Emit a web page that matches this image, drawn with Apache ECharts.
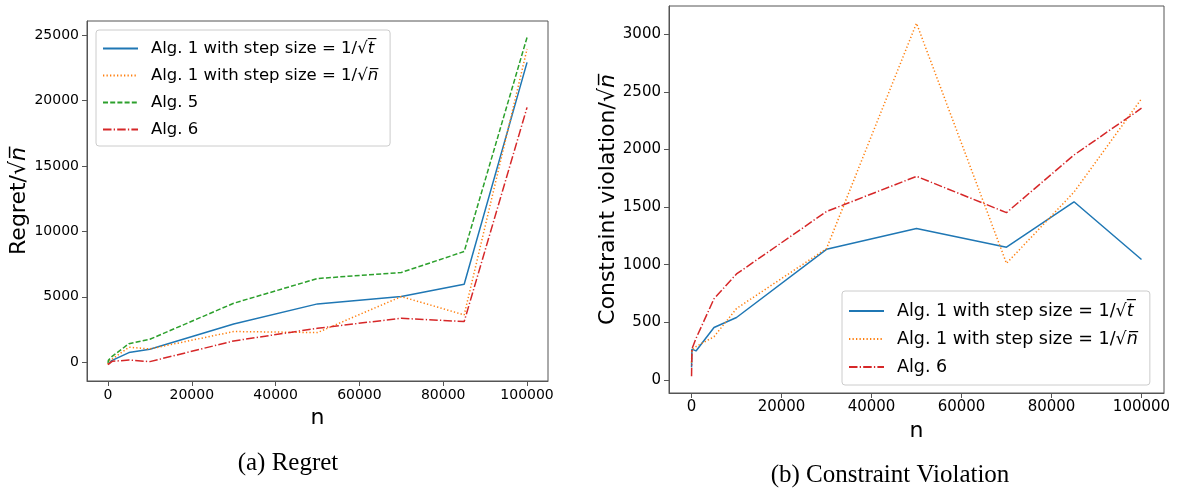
<!DOCTYPE html>
<html>
<head>
<meta charset="utf-8">
<script src="https://cdn.jsdelivr.net/npm/echarts@6/dist/echarts.min.js"></script>
<style>
html,body{margin:0;padding:0;background:#fff;}
#chart{width:1180px;height:488px;}
</style>
</head>
<body>
<div id="chart"></div>
<script>
// ---- data ----
const nValues = [10, 100, 1000, 5000, 10000, 30000, 50000, 70000, 85000, 100000];

const regretAlg1SqrtT = [-150, 0, 150, 740, 990, 2930, 4460, 5020, 5960, 22910];
const regretAlg1SqrtN = [-150, 30, 250, 1150, 1020, 2350, 2270, 5020, 3620, 23930];
const regretAlg5      = [-50, 150, 450, 1420, 1760, 4510, 6400, 6860, 8460, 24820];
const regretAlg6      = [-180, -100, 70, 170, 50, 1630, 2600, 3360, 3110, 19470];

const violAlg1SqrtT = [110, 268, 252, 455, 542, 1134, 1315, 1152, 1546, 1045];
const violAlg1SqrtN = [150, 262, 290, 375, 620, 1140, 3095, 1012, 1630, 2440];
const violAlg6      = [32, 270, 360, 705, 920, 1462, 1767, 1452, 1952, 2358];

const xTicks = [0, 20000, 40000, 60000, 80000, 100000];
const yTicksRegret = [0, 5000, 10000, 15000, 20000, 25000];
const yTicksViol = [0, 500, 1000, 1500, 2000, 2500, 3000];

const NAME_T = 'Alg. 1 with step size = 1/√t';
const NAME_N = 'Alg. 1 with step size = 1/√n';
const NAME_5 = 'Alg. 5';
const NAME_6 = 'Alg. 6';

// ---- styles ----
const C_BLUE = '#1f77b4', C_ORANGE = '#ff7f0e', C_GREEN = '#2ca02c', C_RED = '#d62728';
const LW = 1.5;
const styleOf = {
  [NAME_T]: {color: C_BLUE, type: 'solid'},
  [NAME_N]: {color: C_ORANGE, type: [1.3, 2.2]},
  [NAME_5]: {color: C_GREEN, type: [5, 2.2]},
  [NAME_6]: {color: C_RED, type: [8.5, 2.2, 1.3, 2.2]}
};
const zip = (xs, ys) => xs.map((x, i) => [x, ys[i]]);
function mkSeries(name, ys, idx) {
  const s = styleOf[name];
  return {
    name: name, type: 'line', xAxisIndex: idx, yAxisIndex: idx,
    data: zip(nValues, ys), symbol: 'none', showSymbol: false,
    color: s.color,
    lineStyle: {color: s.color, width: LW, type: s.type},
    animation: false, z: 3
  };
}
const FRAME = '#555';

function xAxisCfg(idx, gap, fs) {
  return {
    type: 'value', gridIndex: idx, min: -5000, max: 105000,
    name: 'n', nameLocation: 'middle', nameGap: gap,
    nameTextStyle: {fontFamily: 'DejaVu Sans', fontSize: 22, color: '#000'},
    axisLine: {show: true, onZero: false, lineStyle: {color: FRAME, width: 1}},
    axisTick: {show: true, length: 5, lineStyle: {color: FRAME}, customValues: xTicks},
    axisLabel: {show: true, margin: 7, customValues: xTicks, formatter: v => String(v),
      fontFamily: 'DejaVu Sans', fontSize: fs, color: '#000'},
    splitLine: {show: false}
  };
}
function yAxisCfg(idx, min, max, ticks, name, gap, fs) {
  return {
    type: 'value', gridIndex: idx, min: min, max: max,
    name: name, nameLocation: 'middle', nameRotate: 90, nameGap: gap,
    nameTextStyle: {fontFamily: 'DejaVu Sans', fontSize: 22, color: '#000',
      rich: {i: {fontFamily: 'DejaVu Sans', fontSize: 22, fontStyle: 'italic', color: '#000'}}},
    axisLine: {show: true, onZero: false, lineStyle: {color: FRAME, width: 1}},
    axisTick: {show: true, length: 5, lineStyle: {color: FRAME}, customValues: ticks},
    axisLabel: {show: true, margin: 8, customValues: ticks, formatter: v => String(v),
      fontFamily: 'DejaVu Sans', fontSize: fs, color: '#000'},
    splitLine: {show: false}
  };
}
function legendFormatter(name) {
  if (name === NAME_T) return '{a|Alg. 1 with step size = 1/√}{i|t\u0305}';
  if (name === NAME_N) return '{a|Alg. 1 with step size = 1/√}{i|n\u0305}';
  return '{a|' + name + '}';
}
function legendCfg(left, top, names, fs, gap, pad) {
  return {
    orient: 'vertical', left: left, top: top, data: names,
    itemWidth: 35, itemHeight: 14, itemGap: gap,
    padding: pad,
    backgroundColor: 'rgba(255,255,255,0.85)',
    borderColor: '#cccccc', borderWidth: 1, borderRadius: 3,
    formatter: legendFormatter,
    selectedMode: false,
    itemStyle: {color: 'transparent', borderWidth: 0, opacity: 0},
    textStyle: {
      fontFamily: 'DejaVu Sans', fontSize: fs, color: '#000', padding: [0, 0, 0, 8],
      rich: {
        a: {fontFamily: 'DejaVu Sans', fontSize: fs, color: '#000', lineHeight: fs + 2},
        i: {fontFamily: 'DejaVu Sans', fontSize: fs, fontStyle: 'italic', color: '#000', lineHeight: fs + 2}
      }
    }
  };
}

const option = {
  backgroundColor: '#fff',
  animation: false,
  title: [
    {text: '(a) Regret', left: 283, top: 446, textAlign: 'center',
     textStyle: {fontFamily: 'Liberation Serif', fontSize: 25, fontWeight: 'normal', color: '#000'}},
    {text: '(b) Constraint Violation', left: 885, top: 458, textAlign: 'center',
     textStyle: {fontFamily: 'Liberation Serif', fontSize: 25, fontWeight: 'normal', color: '#000'}}
  ],
  grid: [
    {left: 87, top: 21, width: 461, height: 360, show: true, borderColor: FRAME, borderWidth: 1, backgroundColor: 'transparent'},
    {left: 669, top: 6, width: 495, height: 387, show: true, borderColor: FRAME, borderWidth: 1, backgroundColor: 'transparent'}
  ],
  xAxis: [xAxisCfg(0, 17, 14), xAxisCfg(1, 21, 15)],
  yAxis: [
    yAxisCfg(0, -1430, 26070, yTicksRegret, 'Regret/√{i|n\u0305}', 56, 14),
    yAxisCfg(1, -113, 3245, yTicksViol, 'Constraint violation/√{i|n\u0305}', 50, 15)
  ],
  legend: [
    legendCfg(96, 30, [NAME_T, NAME_N, NAME_5, NAME_6], 16.5, 10, [10, 12, 8, 6]),
    legendCfg(842, 291, [NAME_T, NAME_N, NAME_6], 17.5, 10, [11, 12, 9, 6])
  ],
  series: [
    mkSeries(NAME_T, regretAlg1SqrtT, 0),
    mkSeries(NAME_N, regretAlg1SqrtN, 0),
    mkSeries(NAME_5, regretAlg5, 0),
    mkSeries(NAME_6, regretAlg6, 0),
    mkSeries(NAME_T, violAlg1SqrtT, 1),
    mkSeries(NAME_N, violAlg1SqrtN, 1),
    mkSeries(NAME_6, violAlg6, 1)
  ]
};
const chart = echarts.init(document.getElementById('chart'), null, {renderer: 'canvas'});
chart.setOption(option);
</script>
</body>
</html>
